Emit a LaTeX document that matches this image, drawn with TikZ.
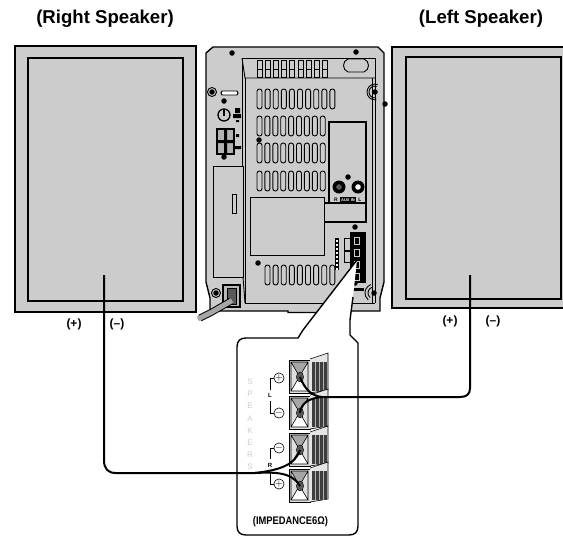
\documentclass[tikz,border=0pt]{standalone}
\usepackage{fontspec}
\setmainfont{Liberation Sans}
\definecolor{gfill}{gray}{0.8}
\definecolor{gdark}{gray}{0.35}
\tikzset{
 panel/.style={draw=black,line width=1.4pt,fill=gfill},
 thin/.style={draw=black,line width=0.9pt},
 slot/.style={draw=black,line width=0.9pt,fill=gfill,rounded corners=2.4pt},
 screw/.style={circle,fill=black,inner sep=0pt,minimum size=5.5pt},
 wire/.style={draw=black,line width=2pt,line join=round},
 lab/.style={font=\bfseries\fontsize{18.6}{20}\selectfont,inner sep=0pt},
 pol/.style={font=\bfseries\fontsize{12}{14}\selectfont,inner sep=0pt},
 sign/.style={circle,draw=black,line width=0.6pt,inner sep=0pt,minimum size=10pt,font=\fontsize{10}{10}\selectfont},
 spk/.style={font=\fontsize{8}{9}\selectfont,text=gray!40,inner sep=0pt},
}
\newcommand{\terminal}[2]{%
 \fill[gray!25] (#1,#2) rectangle ++(21,33);
 \fill[gray!70] (#1+2,#2+2) -- ++(17,0) -- ++(-8.5,14) -- cycle;
 \fill[white] (#1+2,#2+31) -- ++(17,0) -- ++(-8.5,-15) -- cycle;
 \draw[black,line width=0.7pt] (#1,#2) rectangle ++(21,33);
 \draw[black,line width=0.6pt] (#1+2,#2+2) rectangle ++(17,29) (#1+2,#2+2) -- ++(17,29) (#1+19,#2+2) -- ++(-17,29);
 \fill[gray!20] (#1+21,#2-1) -- ++(18,-6) -- ++(0,37) -- ++(-18,3) -- cycle;
 \draw[black,line width=0.6pt] (#1+21,#2-1) -- ++(18,-6) -- ++(0,37) -- ++(-18,3);
 \fill[gdark!70!black] (#1+22.5,#2+2) rectangle ++(15,29);
 \foreach \r in {3,7,11}{\draw[gray!60,line width=0.3pt] (#1+23+\r,#2+2) -- ++(0,29);}
 \fill[gdark] (#1+11,#2+17) ellipse (3.6pt and 5pt);
 \draw[black,line width=0.4pt] (#1+11,#2+17) ellipse (3.6pt and 5pt);
}
\begin{document}
\begin{tikzpicture}[x=1pt,y=-1pt]
\useasboundingbox (0,0) rectangle (563,536);
% titles
\node[lab] (tr) at (105,19) {(Right Speaker)};
\node[lab] (tl) at (481,19) {(Left Speaker)};
% right speaker (left of picture)
\path[panel] (15,46) rectangle (196,312);
\path[panel,line width=1.1pt] (28,58) rectangle (183,301);
\node[pol] (rp) at (74,324) {(+)};
\node[pol] (rm) at (117,324) {(--)};
% left speaker (right of picture)
\path[panel] (392,47) -- (575,47) -- (575,308) -- (392,308) -- cycle;
\path[panel,line width=1.1pt] (406,57) rectangle (561,299);
\node[pol] (lp) at (450,321) {(+)};
\node[pol] (lm) at (493,321) {(--)};
% unit
\path[panel] (213,47) -- (378,47) -- (384,53) -- (384,282) -- (380,298) -- (380,311) -- (318,311) -- (318,312.5) -- (288,312.5) -- (288,311) -- (210,311) -- (210,298) -- (206,282) -- (206,53) -- cycle;
\draw[thin] (242,58) -- (375,58) -- (375,303);
\draw[thin] (372,78) -- (372,303);
\draw[thin] (242,58) -- (245,78) -- (375,78);
\draw[thin] (245,78) -- (245,303) -- (375,303);
\draw[thin] (242,58) -- (242,166);
\draw[thin] (213,166) rectangle (243,277);
\draw[thin] (243,277) -- (245,303);
% grille top
\foreach \x in {257,265.2,...,327} {\draw[black,line width=0.8pt] (\x,60) rectangle ++(5,17); \draw[black,line width=0.8pt] (\x,69) -- ++(5,0);}
\draw[thin,fill=gfill] (348,59) .. controls (342,61) and (342,70) .. (348,72) -- (364,72) .. controls (370,70) and (370,61) .. (364,59) -- cycle;
% slots
\foreach \i in {0,...,9} {\path[slot] ({257+\i*8.1},89) rectangle ++(5,20);}
\foreach \y in {116,143,171} {\foreach \i in {0,...,8} {\path[slot] ({257+\i*7.9},\y) rectangle ++(5,20);}}
\foreach \i in {0,...,8} {\path[slot] ({265+\i*8.1},265) rectangle ++(5,20);}
% panels
\path[panel,line width=1.1pt] (329,122) rectangle (366,203);
\path[panel,line width=1.1pt] (324,203) rectangle (366,222);
\path[panel,line width=0.9pt] (250,197) rectangle (324,255);
\draw[thin] (232,194) rectangle (236,213);
% AUX jacks
\node[circle,fill=black,minimum size=13pt,inner sep=0pt] (jr) at (339,187) {};
\node[circle,fill=black,minimum size=13pt,inner sep=0pt] (jl) at (358,187) {};
\fill[gdark] (jr) circle (2.8pt);
\fill[white] (jl) circle (2.8pt);
\node[fill=black,minimum width=16pt,minimum height=6pt,inner sep=0pt,text=white,font=\bfseries\fontsize{4}{5}\selectfont] (aux) at (348,200) {AUX IN};
\node[font=\bfseries\fontsize{5}{5}\selectfont,inner sep=0pt] (auxr) at (336,200) {R};
\node[font=\bfseries\fontsize{5}{5}\selectfont,inner sep=0pt] (auxl) at (360,200) {L};
% screws
\foreach \x/\y in {232/53,356/52,212/92,375/92,385/104,224/101,259/140,348/177,224/157,258/263,355/227,355/283,216/293,374/293}{\node[screw] at (\x,\y) {};}
\draw[thin] (212,92) circle (4.5pt) (216,293) circle (4.5pt);
\draw[thin] (375,92) ++(70:8pt) arc (70:280:8pt);
\draw[thin] (375,92) ++(70:6pt) arc (70:280:6pt);
\draw[thin] (374,293) ++(110:9pt) arc (110:230:9pt);
\draw[thin] (374,293) ++(110:6pt) arc (110:230:6pt);
% left side controls
\draw[thin,fill=white] (222,91) -- (237,91) -- (238,93) -- (237,95) -- (222,95) -- (221,93) -- cycle;
\node[circle,draw=black,line width=1.3pt,fill=gfill,minimum size=12pt,inner sep=0pt] (pw) at (224,115) {};
\draw[black,line width=1.2pt] (224,110) -- (224,116);
\fill[black] (235,108) rectangle (240,113) (233,114) rectangle (241,118) (236,120) rectangle (239,122);
\path[fill=gray!60,draw=black,line width=1.5pt] (217,129) rectangle (234,154);
\fill[black] (224,130) rectangle (227,153) (217,140) rectangle (234,143);
\fill[black] (236,134) rectangle (239,137) (235,146) rectangle (241,149);
% speaker terminal on unit
\fill[black] (350,232) rectangle (366,283);
\fill[black] (353,288) rectangle (364,291);
\foreach \y in {237,249,261,273}{\draw[gfill,line width=0.8pt] (354,\y) rectangle ++(5,7);}
\draw[thin] (344,238) rectangle (350,250) (344,251) rectangle (350,262);
\draw[black,line width=4pt] (337,238) -- (337,270);
\foreach \y in {240,244,...,268}{\fill[white] (336,\y) rectangle ++(2,2);}
% power inlet
\path[fill=gray!55,draw=black,line width=1.2pt] (223,285) rectangle (240,307);
\path[fill=gdark,draw=black,line width=1pt] (227,288) rectangle (236,304);
\draw[black,line width=7pt] (231,301) -- (212,312) -- (200,318);
\draw[gray!70,line width=5pt] (232,300.5) -- (212,312) -- (198,319);
% callout
\coordinate (cu) at (357,260);
\coordinate (cv) at (353,297);
\path[draw=black,line width=1.4pt,fill=white] (cu) -- (303,330) -- (298,338) -- (246,338) .. controls (240,338) and (237,341) .. (237,347) -- (237,526) .. controls (237,532) and (240,535) .. (246,535) -- (349,535) .. controls (355,535) and (358,532) .. (358,526) -- (358,343) -- (350,335) -- (350,320) -- (cv);
% terminals
\foreach \y in {360,396,433,469}{\terminal{289}{\y}}
\node (t1) at (300,377) {};
\node (t2) at (300,413) {};
\node (t3) at (300,450) {};
\node (t4) at (300,486) {};
\node[sign] (sa) at (279,378) {$+$};
\node[sign] (sb) at (279,413) {$-$};
\node[sign] (sc) at (279,448) {$-$};
\node[sign] (sd) at (279,484) {$+$};
\draw[black,line width=0.6pt] (sa) -- (270,378) -- (270,390) (sb) -- (270,413) -- (270,401) (sc) -- (270,448) -- (270,459) (sd) -- (270,484) -- (270,472);
\node[font=\bfseries\fontsize{6}{6}\selectfont,inner sep=0pt] (ll) at (270,395) {L};
\node[font=\bfseries\fontsize{6}{6}\selectfont,inner sep=0pt] (lr) at (270,465) {R};
\foreach \c [count=\i] in {S,P,E,A,K,E,R,S}{\node[spk] at (250,{382+(\i-1)*12.1}) {\c};}
\node[font=\bfseries\fontsize{11}{12}\selectfont,inner sep=0pt,xscale=0.85,transform shape] (imp) at (290.5,522) {(IMPEDANCE6Ω)};
% wires
\coordinate (wl) at (470,275);
\coordinate (wr) at (104,275);
\draw[wire] (wl) -- (470,388) .. controls (470,394) and (467,397) .. (460,397) -- (322,397) .. controls (312,396) and (305,390) .. (t1.center);
\draw[wire] (322,397) .. controls (311,398) and (301,402) .. (t2.center);
\draw[wire] (wr) -- (104,460) .. controls (104,469) and (108,473) .. (116,473) -- (255,473) .. controls (280,470) and (295,465) .. (t3.center);
\draw[wire] (255,473) .. controls (275,472) and (292,472) .. (t4.center);
\end{tikzpicture}
\end{document}
